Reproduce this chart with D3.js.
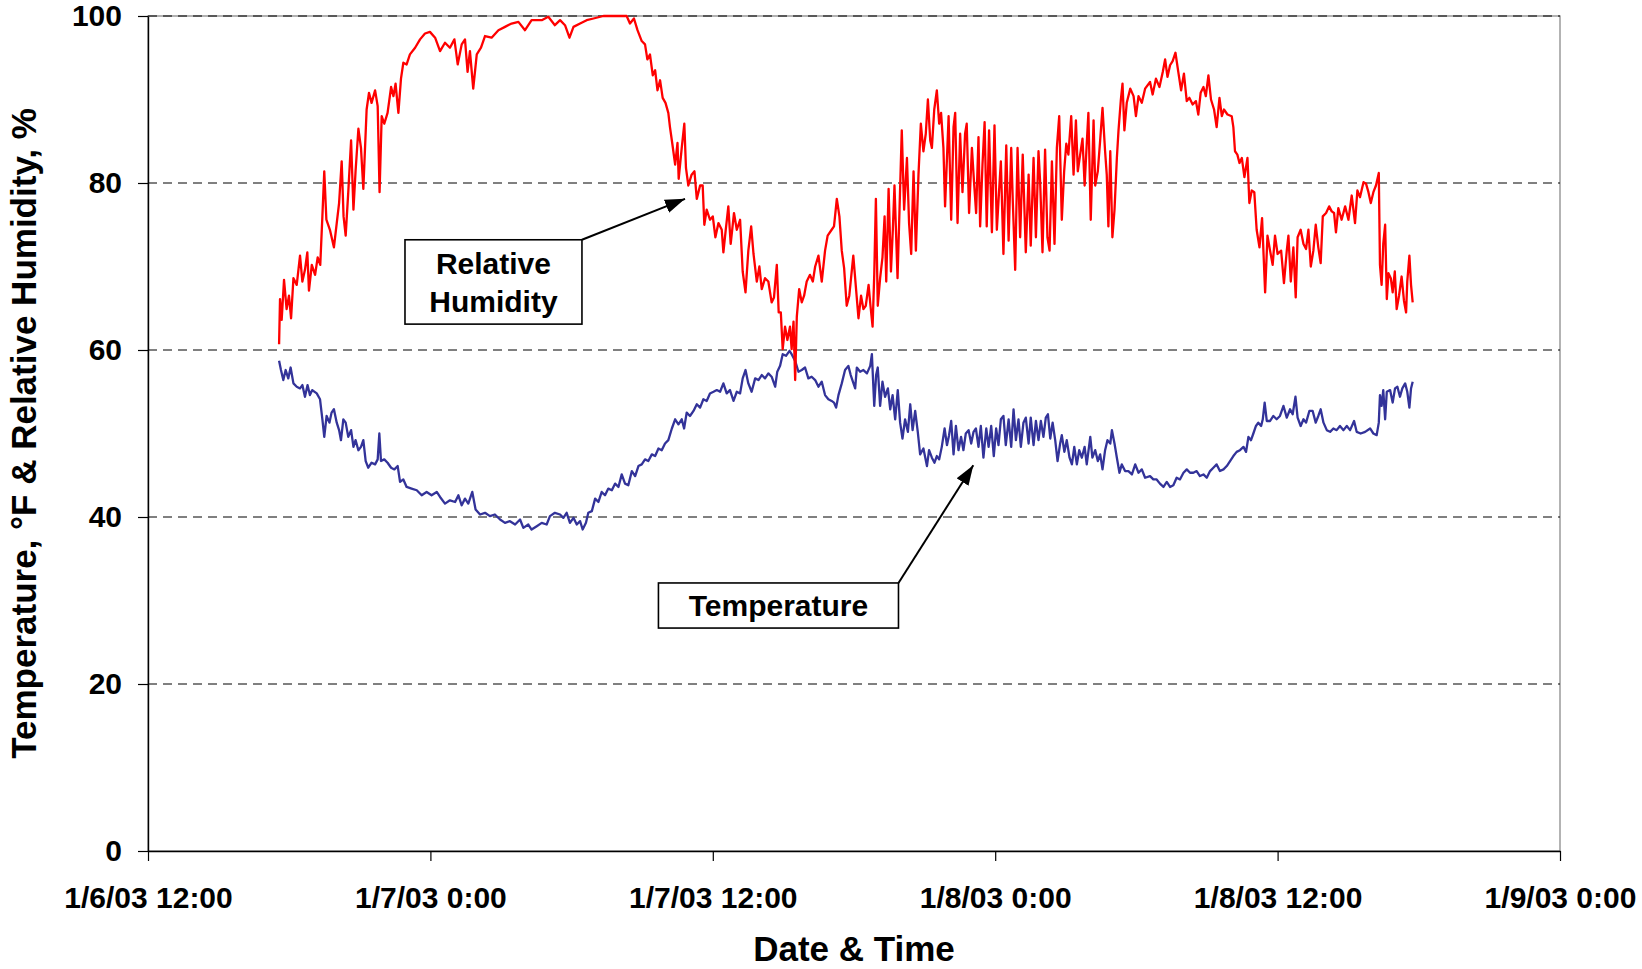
<!DOCTYPE html>
<html>
<head>
<meta charset="utf-8">
<script src="https://cdn.jsdelivr.net/npm/d3@7"></script>
<style>
html,body{margin:0;padding:0;background:#fff;}
svg{display:block;font-family:"Liberation Sans",Arial,sans-serif;font-weight:bold;}
</style>
</head>
<body>
<svg id="chart" width="1642" height="969"></svg>
<script>
// ---------------- DATA ----------------
const startStamp = "1/6/03 12:00";
const endStamp = "1/9/03 0:00";
const xTickLabels = ["1/6/03 12:00", "1/7/03 0:00", "1/7/03 12:00", "1/8/03 0:00", "1/8/03 12:00", "1/9/03 0:00"];
const yTickValues = [0, 20, 40, 60, 80, 100];
const xTitle = "Date & Time";
const yTitle = "Temperature, °F & Relative Humidity, %";

// [hours after 1/6/03 12:00, relative humidity %]
const rhReadings = [
[5.57,60.7],[5.61,66.1],[5.68,63.6],[5.78,68.4],[5.89,64.9],[5.99,66.5],[6.08,63.8],[6.18,68.6],[6.32,67.8],[6.46,71.3],
[6.56,68.2],[6.67,69.6],[6.77,71.7],[6.84,67.1],[6.96,70.2],[7.10,69.0],[7.21,71.1],[7.32,70.2],[7.41,76.0],[7.49,81.4],
[7.58,75.6],[7.73,74.4],[7.90,72.3],[8.02,75.2],[8.12,77.6],[8.23,82.6],[8.31,76.0],[8.40,73.7],[8.51,78.9],[8.63,85.1],
[8.73,76.8],[8.82,81.4],[8.94,86.5],[9.05,84.2],[9.15,79.3],[9.29,88.8],[9.39,90.8],[9.50,89.6],[9.65,91.1],[9.76,89.2],
[9.84,78.9],[9.93,88.0],[10.04,87.1],[10.18,88.4],[10.33,91.5],[10.43,90.4],[10.52,91.9],[10.64,88.4],[10.75,92.5],[10.85,94.4],
[10.99,94.2],[11.13,95.4],[11.35,96.2],[11.56,97.2],[11.77,97.9],[11.98,98.1],[12.20,97.4],[12.41,95.8],[12.62,96.8],[12.83,96.2],
[13.02,97.2],[13.16,94.2],[13.33,96.6],[13.47,97.2],[13.58,93.3],[13.68,95.8],[13.82,91.3],[13.97,95.4],[14.15,96.2],[14.32,97.6],
[14.60,97.4],[14.89,98.3],[15.17,98.7],[15.45,99.1],[15.74,99.3],[16.02,98.3],[16.30,99.5],[16.73,99.5],[17.01,99.9],[17.29,98.9],
[17.51,99.5],[17.72,98.9],[17.91,97.4],[18.08,98.7],[18.36,99.1],[18.64,99.5],[18.93,99.7],[19.35,100],[19.78,100],[20.34,100],
[20.48,99.1],[20.65,99.7],[20.80,98.3],[20.98,97.0],[21.12,96.6],[21.22,94.8],[21.33,95.4],[21.45,92.9],[21.55,93.5],[21.65,91.1],
[21.76,92.3],[21.87,90.2],[21.99,89.6],[22.11,88.4],[22.18,86.7],[22.28,84.7],[22.40,82.2],[22.50,84.8],[22.55,80.5],[22.68,84.2],
[22.79,87.1],[22.86,81.8],[22.96,79.7],[23.10,81.0],[23.22,81.4],[23.32,78.1],[23.46,79.7],[23.57,79.7],[23.64,75.0],[23.74,76.8],
[23.88,75.6],[24.00,76.0],[24.11,73.5],[24.24,75.2],[24.38,74.4],[24.45,71.7],[24.55,74.4],[24.66,77.2],[24.76,72.7],[24.90,76.4],
[25.02,74.4],[25.16,75.6],[25.27,69.4],[25.39,66.9],[25.51,71.9],[25.63,74.8],[25.73,71.5],[25.87,68.2],[25.98,70.0],[26.08,67.3],
[26.22,68.6],[26.36,68.2],[26.50,65.7],[26.60,66.3],[26.72,70.2],[26.80,64.5],[26.89,64.5],[26.97,60.1],[27.07,62.8],[27.17,61.2],
[27.28,62.8],[27.35,60.1],[27.43,63.4],[27.50,56.4],[27.57,64.0],[27.67,67.3],[27.78,65.7],[27.88,66.5],[27.99,68.2],[28.13,69.0],
[28.25,68.2],[28.35,70.0],[28.49,71.3],[28.63,68.2],[28.77,71.9],[28.88,73.7],[29.05,74.4],[29.15,74.8],[29.27,78.1],[29.38,76.0],
[29.48,71.9],[29.58,69.8],[29.69,65.3],[29.80,66.5],[29.97,71.3],
[30.19,63.8],[30.30,66.5],[30.40,64.9],[30.50,65.3],[30.62,67.8],[30.70,65.3],[30.79,62.8],[30.86,69.0],[30.93,78.1],[31.01,65.3],
[31.11,68.6],[31.21,71.1],[31.30,76.0],[31.37,68.2],[31.47,79.3],[31.57,69.4],[31.65,74.4],[31.72,79.7],[31.85,68.6],[31.93,76.4],
[32.03,86.3],[32.13,76.8],[32.25,83.0],[32.34,75.2],[32.43,71.5],[32.53,81.4],[32.63,71.9],[32.74,81.0],[32.84,87.1],[32.95,83.8],
[33.05,85.9],[33.14,90.0],[33.24,85.1],[33.31,84.2],[33.41,88.8],[33.52,91.1],[33.62,87.1],[33.70,88.4],[33.80,84.2],[33.87,77.2],
[34.02,88.0],[34.13,75.6],[34.23,86.7],[34.30,88.4],[34.40,75.2],[34.51,85.9],[34.61,78.9],[34.72,85.9],[34.79,87.1],[34.89,76.4],
[35.01,84.2],[35.11,79.7],[35.19,76.4],[35.29,85.5],[35.36,74.8],[35.46,82.2],[35.55,87.3],[35.64,74.8],[35.74,86.3],[35.86,74.1],
[35.97,86.9],[36.07,74.4],[36.17,79.3],[36.24,82.6],[36.35,71.5],[36.47,84.5],[36.57,73.1],[36.68,84.2],[36.75,77.6],[36.85,69.6],
[36.95,84.2],[37.06,73.5],[37.17,83.4],[37.30,71.7],[37.42,81.0],[37.51,72.5],[37.63,83.0],[37.73,73.5],[37.84,83.8],[37.91,80.1],
[38.01,71.7],[38.12,84.0],[38.22,73.5],[38.31,71.9],[38.41,82.6],[38.52,72.7],[38.62,84.2],[38.72,88.0],[38.83,75.6],[38.93,81.4],
[39.02,84.7],[39.11,83.4],[39.23,88.0],[39.33,81.0],[39.43,87.5],[39.51,81.4],[39.61,83.4],[39.71,85.3],[39.80,79.7],[39.89,84.7],
[39.96,88.4],[40.06,75.6],[40.18,87.5],[40.25,79.7],[40.36,81.4],[40.46,85.1],[40.56,89.0],[40.67,83.8],[40.74,81.0],[40.81,74.8],
[40.89,83.8],[40.98,73.5],[41.07,76.8],[41.17,83.0],[41.24,86.3],[41.34,90.0],[41.41,91.9],[41.49,86.3],[41.59,89.6],[41.74,91.3],
[41.88,90.4],[41.98,88.0],[42.09,90.4],[42.23,89.6],[42.37,91.3],
[42.58,92.1],[42.69,90.6],[42.83,92.5],[42.98,91.5],[43.12,93.3],[43.22,94.8],[43.32,92.7],[43.43,94.1],[43.54,94.6],[43.66,95.6],
[43.78,93.3],[43.90,91.1],[44.02,93.1],[44.14,89.8],[44.25,90.2],[44.39,89.4],[44.53,89.8],[44.63,88.2],[44.73,90.8],[44.85,91.5],
[44.95,90.4],[45.06,92.9],[45.17,90.0],[45.30,88.8],[45.41,86.7],[45.53,90.2],[45.63,88.0],[45.72,88.8],[45.87,88.2],[46.05,88.0],
[46.12,86.7],[46.19,83.8],[46.29,83.4],[46.38,82.4],[46.48,83.0],[46.59,80.7],[46.72,83.0],[46.80,77.6],[46.90,79.1],[47.01,78.9],
[47.11,74.4],[47.23,72.3],[47.34,75.8],[47.47,66.9],[47.57,73.7],[47.68,71.9],[47.79,70.2],[47.89,73.7],[48.00,71.5],[48.15,71.9],
[48.27,68.0],[48.39,71.9],[48.46,73.7],[48.56,68.2],[48.67,72.3],[48.77,66.3],[48.85,73.5],[48.98,74.4],[49.10,72.7],[49.21,72.1],
[49.31,74.4],[49.41,70.0],[49.52,71.9],[49.62,75.0],[49.73,72.3],[49.83,70.4],[49.92,76.0],[50.06,76.4],[50.19,77.2],[50.30,76.6],
[50.40,76.4],[50.48,74.1],[50.58,77.0],[50.72,75.6],[50.87,77.2],[51.01,75.6],[51.15,78.5],[51.29,75.2],[51.39,79.1],[51.50,78.3],
[51.65,80.1],[51.76,79.9],[51.86,78.9],[51.96,77.6],[52.07,78.9],[52.18,79.7],[52.30,81.2],[52.35,70.2],[52.42,67.8],[52.49,72.7],
[52.57,75.0],[52.64,66.1],[52.71,69.2],[52.81,68.6],[52.89,66.9],[52.98,69.4],[53.06,64.9],[53.16,66.5],[53.27,68.8],[53.37,65.9],
[53.46,64.5],[53.51,68.2],[53.60,71.3],[53.67,67.8],[53.74,65.7]
];

// [hours after 1/6/03 12:00, temperature °F]
const tempReadings = [
[5.57,58.7],[5.65,57.6],[5.75,56.4],[5.85,57.6],[5.96,56.6],[6.06,57.9],[6.18,56.0],[6.32,55.6],[6.46,55.4],[6.56,55.8],
[6.67,54.4],[6.78,55.8],[6.88,54.6],[6.98,55.2],[7.17,54.8],[7.31,54.1],[7.41,51.7],[7.49,49.6],[7.59,52.1],[7.71,51.3],
[7.80,52.5],[7.90,52.9],[8.02,51.3],[8.12,50.4],[8.20,49.2],[8.30,51.7],[8.40,51.3],[8.51,49.6],[8.63,50.4],[8.73,48.4],
[8.82,49.2],[8.94,48.0],[9.05,48.4],[9.15,49.2],[9.25,46.7],[9.36,45.9],[9.50,46.5],[9.65,46.3],[9.76,46.9],[9.83,50.0],
[9.90,46.7],[10.04,46.9],[10.18,46.5],[10.33,45.9],[10.47,45.7],[10.61,46.1],[10.71,44.2],[10.85,44.5],[10.99,43.6],[11.20,43.4],
[11.42,43.2],[11.63,42.6],[11.84,43.0],[12.05,42.6],[12.27,43.0],[12.41,42.4],[12.62,41.6],[12.83,42.0],[13.05,41.8],[13.19,42.6],
[13.33,41.4],[13.47,42.2],[13.61,41.6],[13.78,43.0],[13.92,40.9],[14.11,40.3],[14.32,40.5],[14.53,40.1],[14.74,40.3],[14.96,39.7],
[15.17,39.3],[15.38,39.5],[15.60,39.1],[15.81,39.7],[15.95,38.7],[16.16,39.1],[16.30,38.5],[16.52,38.9],[16.73,39.3],[16.94,39.1],
[17.08,40.1],[17.29,40.5],
[17.51,40.3],[17.65,39.9],[17.79,40.5],[17.93,39.3],[18.08,39.9],[18.22,39.1],[18.36,39.5],[18.47,38.5],[18.61,39.3],[18.71,40.5],
[18.86,40.7],[19.00,42.2],[19.14,41.8],[19.28,43.0],[19.42,42.6],[19.56,43.4],[19.71,43.2],[19.85,44.0],[19.99,43.6],[20.13,45.1],
[20.27,44.0],[20.41,43.8],[20.56,45.5],[20.70,44.9],[20.84,46.1],[20.98,46.3],[21.12,46.9],[21.26,46.7],[21.41,47.5],[21.55,47.3],
[21.69,48.2],[21.83,48.0],[21.97,48.8],[22.11,49.2],[22.26,50.6],[22.40,51.7],[22.54,51.1],[22.68,51.7],[22.78,50.6],[22.89,52.5],
[23.03,52.1],[23.18,52.7],[23.32,53.5],[23.46,53.1],[23.60,54.1],[23.74,53.9],[23.88,54.8],[24.03,55.0],[24.17,55.2],[24.31,55.0],
[24.45,56.0],[24.59,54.8],[24.73,55.2],[24.88,53.9],[25.02,55.0],[25.16,54.8],[25.27,56.6],[25.39,57.6],[25.51,56.0],[25.65,55.0],
[25.80,56.6],[25.94,56.4],[26.08,57.0],[26.22,56.6],[26.36,57.2],[26.50,56.8],[26.65,55.6],[26.74,57.4],[26.86,58.1],[26.97,59.5],
[27.11,59.3],[27.26,59.9],[27.35,59.5],[27.50,58.7],[27.64,57.4],[27.78,57.6],[27.92,57.9],[28.06,56.6],[28.20,56.8],[28.35,56.4],
[28.49,55.6],[28.63,56.2],[28.77,54.6],[28.91,54.1],[29.05,53.9],[29.15,53.7],[29.24,53.1],[29.34,54.6],[29.48,56.0],[29.62,57.6],
[29.76,58.1],[29.86,57.0],
[30.05,55.4],[30.12,57.9],[30.26,57.4],[30.40,57.6],[30.55,57.2],[30.69,58.1],[30.76,59.5],[30.86,53.3],[30.94,57.0],[31.01,57.9],
[31.11,53.3],[31.21,56.2],[31.32,54.4],[31.44,55.4],[31.54,52.9],[31.64,54.6],[31.75,51.7],[31.86,55.2],[31.96,51.3],[32.06,49.4],
[32.17,51.7],[32.29,50.2],[32.39,53.5],[32.49,50.4],[32.60,52.7],[32.71,50.2],[32.81,47.5],[32.95,48.2],[33.10,46.1],[33.19,48.0],
[33.31,47.1],[33.42,46.5],[33.52,47.3],[33.62,46.9],[33.73,48.4],[33.85,50.6],[33.95,48.6],[34.04,49.8],[34.13,51.5],[34.23,47.5],
[34.33,50.9],[34.44,48.0],[34.55,49.6],[34.65,48.0],[34.75,50.0],[34.87,50.4],[34.98,48.8],[35.08,50.2],[35.18,50.6],[35.29,48.4],
[35.39,50.9],[35.50,47.1],[35.62,50.6],[35.72,48.4],[35.83,50.9],[35.94,47.3],[36.04,50.6],[36.14,48.6],[36.24,51.7],[36.35,52.1],
[36.45,48.6],[36.57,51.7],[36.68,48.4],[36.78,52.9],[36.88,49.2],[36.99,51.7],[37.09,48.4],[37.20,51.3],[37.30,51.9],[37.42,48.8],
[37.51,51.9],[37.63,48.6],[37.73,51.5],[37.84,49.2],[37.94,51.5],[38.05,49.6],[38.15,51.9],[38.24,52.3],[38.34,49.4],[38.44,51.3],
[38.55,49.2],[38.65,46.7],[38.76,48.8],[38.83,49.8],[38.94,47.8],[39.04,49.2],[39.16,47.1],[39.26,46.3],[39.36,48.4],[39.47,46.3],
[39.57,48.0],[39.68,47.1],[39.80,48.4],[39.89,46.3],[40.04,49.6],[40.13,47.1],[40.25,48.0],[40.36,46.7],[40.46,47.5],[40.56,45.7],
[40.67,48.0],[40.77,49.2],[40.89,48.8],[40.96,50.4],[41.07,48.8],[41.17,47.1],[41.28,45.3],[41.38,46.3],[41.52,45.5],[41.66,45.5],
[41.81,45.1],[41.95,46.3],[42.09,45.3],[42.23,45.7],[42.37,44.7],
[42.58,44.9],[42.72,44.5],[42.86,44.5],[43.00,44.0],[43.15,43.6],[43.29,44.2],[43.43,43.6],[43.57,43.8],[43.71,44.7],[43.85,44.5],
[44.00,45.3],[44.14,45.7],[44.28,45.3],[44.42,45.3],[44.56,45.5],[44.70,44.9],[44.85,45.1],[44.99,44.7],[45.13,45.5],[45.27,45.9],
[45.41,46.3],[45.55,45.5],[45.70,45.7],[45.84,46.1],[45.98,46.7],[46.12,47.3],[46.26,47.8],[46.40,48.0],[46.55,48.4],[46.66,47.8],
[46.76,49.6],[46.87,49.2],[46.97,50.0],[47.08,50.9],[47.18,51.3],[47.30,50.9],[47.37,51.7],[47.45,53.7],[47.54,51.5],[47.68,51.5],
[47.82,52.1],[47.96,51.7],[48.10,52.1],[48.25,53.3],[48.39,51.9],[48.53,52.9],[48.64,52.3],[48.76,54.4],[48.85,51.9],[48.98,50.9],
[49.10,51.7],[49.21,51.3],[49.35,52.7],[49.49,52.7],[49.62,51.3],[49.73,52.1],[49.83,52.9],[49.95,51.3],[50.09,50.4],[50.23,50.2],
[50.37,50.6],[50.51,50.4],[50.65,50.9],[50.80,50.4],[50.94,50.9],[51.08,50.4],[51.25,51.5],[51.36,50.2],[51.53,50.0],[51.72,50.2],
[51.93,50.6],[52.07,50.0],[52.21,49.8],[52.30,51.3],[52.35,54.6],[52.42,53.3],[52.49,55.2],[52.57,51.7],[52.64,55.0],[52.78,55.2],
[52.89,53.7],[52.99,55.4],[53.09,55.6],[53.20,54.4],[53.30,55.4],[53.42,56.0],[53.51,55.0],[53.60,53.1],[53.67,55.4],[53.74,56.2]
];

// Callout labels: text lines, box corners [hours, value] and arrow target [hours, value]
const calloutText = [["Relative", "Humidity"], ["Temperature"]];
const calloutBoxHours = [[10.92, 18.44], [21.69, 31.89]];
const calloutBoxValues = [[73.2, 63.1], [32.1, 26.7]];
const calloutTargets = [[22.82, 78.1], [35.07, 46.2]];

// ---------------- CHART ----------------
const W = 1642, H = 969;
const margin = {left: 148, right: 82, top: 16, bottom: 118};
const parse = d3.timeParse("%m/%d/%y %H:%M");
const t0 = parse(startStamp), t1 = parse(endStamp);
const atHours = h => new Date(t0.getTime() + h * 3600000);

const x = d3.scaleTime().domain([t0, t1]).range([margin.left, W - margin.right]);
const y = d3.scaleLinear().domain([0, 100]).range([H - margin.bottom, margin.top]);

const svg = d3.select("#chart");

// plot area border (gray)
svg.append("rect")
  .attr("x", x(t0)).attr("y", y(100))
  .attr("width", x(t1) - x(t0)).attr("height", y(0) - y(100))
  .attr("fill", "#fff").attr("stroke", "#808080").attr("stroke-width", 1.2);

// dashed gridlines
svg.append("g").selectAll("line")
  .data(yTickValues.filter(v => v > 0))
  .join("line")
  .attr("x1", x(t0)).attr("x2", x(t1))
  .attr("y1", d => y(d)).attr("y2", d => y(d))
  .attr("stroke", "#000").attr("stroke-width", 1)
  .attr("stroke-dasharray", "9,6");

// data lines
const line = d3.line().x(d => x(atHours(d[0]))).y(d => y(d[1]));
svg.append("path").datum(tempReadings)
  .attr("d", line).attr("fill", "none")
  .attr("stroke", "#333399").attr("stroke-width", 2.3).attr("stroke-linejoin", "round");
svg.append("path").datum(rhReadings)
  .attr("d", line).attr("fill", "none")
  .attr("stroke", "#FF0000").attr("stroke-width", 2.3).attr("stroke-linejoin", "round");

// axes
const yAxis = d3.axisLeft(y).tickValues(yTickValues).tickFormat(d3.format("d"))
  .tickSize(10).tickSizeOuter(0).tickPadding(16);
const gy = svg.append("g").attr("transform", `translate(${x(t0)},0)`).call(yAxis);
const xTicks = xTickLabels.map(parse);
const xAxis = d3.axisBottom(x).tickValues(xTicks)
  .tickFormat((d, i) => xTickLabels[i]).tickSize(10).tickSizeOuter(0).tickPadding(26);
const gx = svg.append("g").attr("transform", `translate(0,${y(0)})`).call(xAxis);

[gy, gx].forEach(g => {
  g.select(".domain").attr("stroke", "#000").attr("stroke-width", 1.4);
  g.selectAll(".tick line").attr("stroke", "#000").attr("stroke-width", 1.2);
  g.selectAll(".tick text")
    .attr("fill", "#000")
    .style("font-family", '"Liberation Sans", Arial, sans-serif')
    .style("font-weight", "bold").style("font-size", "30px");
});
gx.selectAll(".tick text").attr("dy", "0.71em");

// axis titles
svg.append("text")
  .attr("x", (x(t0) + x(t1)) / 2).attr("y", 961)
  .attr("text-anchor", "middle")
  .style("font-size", "35px").attr("fill", "#000")
  .text(xTitle);
svg.append("text")
  .attr("transform", `translate(36,${(y(0) + y(100)) / 2}) rotate(-90)`)
  .attr("text-anchor", "middle")
  .style("font-size", "35px").attr("fill", "#000")
  .text(yTitle);

// callouts with arrows
const defs = svg.append("defs");
defs.append("marker")
  .attr("id", "arrowhead")
  .attr("viewBox", "0 0 20 14")
  .attr("refX", 20).attr("refY", 7)
  .attr("markerWidth", 20).attr("markerHeight", 14)
  .attr("markerUnits", "userSpaceOnUse")
  .attr("orient", "auto")
  .append("path").attr("d", "M0,0 L20,7 L0,14 Z").attr("fill", "#000");

calloutText.forEach((lines, i) => {
  const bx0 = x(atHours(calloutBoxHours[i][0])), bx1 = x(atHours(calloutBoxHours[i][1]));
  const by0 = y(calloutBoxValues[i][0]), by1 = y(calloutBoxValues[i][1]);
  const tx = x(atHours(calloutTargets[i][0])), ty = y(calloutTargets[i][1]);
  svg.append("line")
    .attr("x1", bx1).attr("y1", by0).attr("x2", tx).attr("y2", ty)
    .attr("stroke", "#000").attr("stroke-width", 2)
    .attr("marker-end", "url(#arrowhead)");
  svg.append("rect")
    .attr("x", bx0).attr("y", by0).attr("width", bx1 - bx0).attr("height", by1 - by0)
    .attr("fill", "#fff").attr("stroke", "#000").attr("stroke-width", 1.6);
  const cy = (by0 + by1) / 2, lh = 38;
  lines.forEach((s, k) => {
    svg.append("text")
      .attr("x", (bx0 + bx1) / 2)
      .attr("y", cy + (k - (lines.length - 1) / 2) * lh + 10.7)
      .attr("text-anchor", "middle")
      .style("font-size", "30px").attr("fill", "#000")
      .text(s);
  });
});
</script>
</body>
</html>
